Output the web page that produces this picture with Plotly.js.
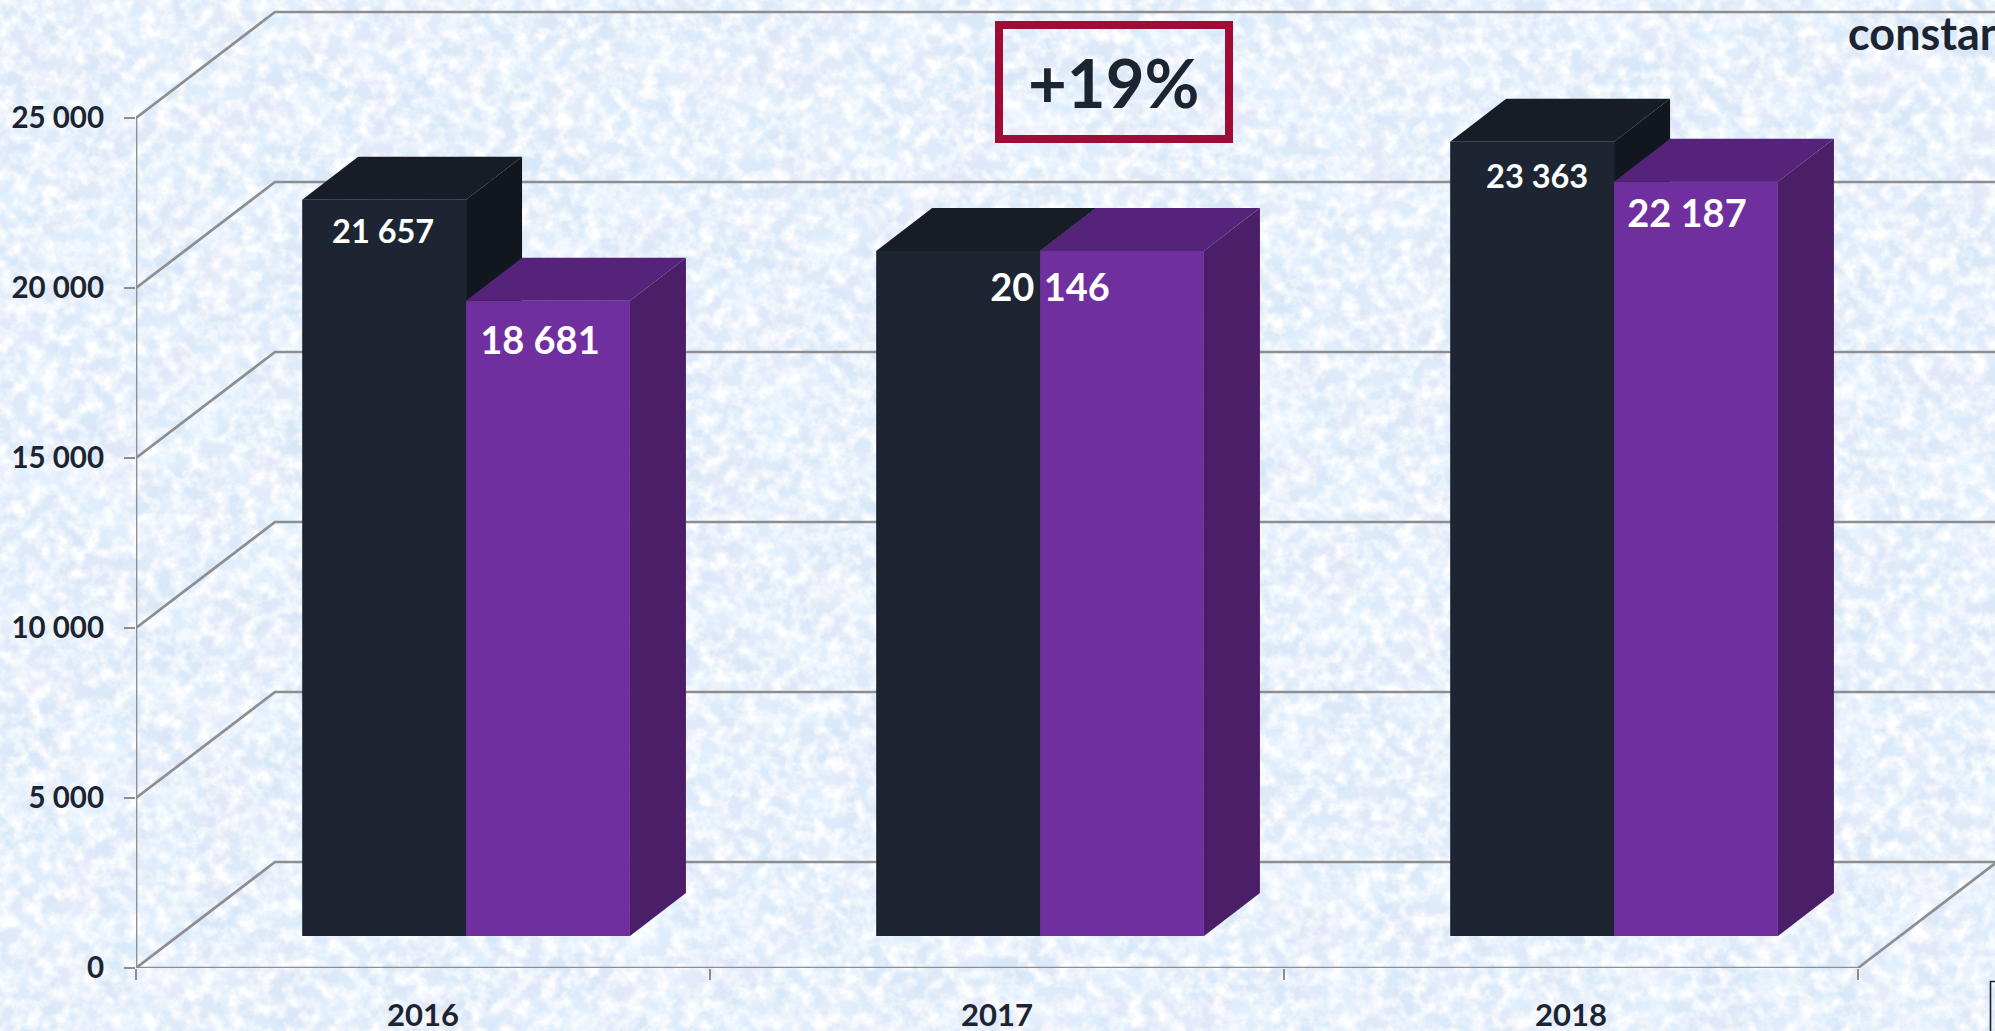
<!DOCTYPE html>
<html><head><meta charset="utf-8">
<script src="https://cdn.plot.ly/plotly-3.0.1.min.js"></script>
<style>
html,body{margin:0;padding:0;width:1995px;height:1031px;overflow:hidden;background:#dde9f6}
#bg{position:absolute;left:0;top:0}
#chart{position:absolute;left:0;top:0;width:1995px;height:1031px}
</style></head><body>
<svg id="bg" width="1995" height="1031">
  <defs>
    <filter id="tex" x="0" y="0" width="100%" height="100%">
      <feTurbulence type="fractalNoise" baseFrequency="0.07" numOctaves="4" seed="7"/>
      <feColorMatrix type="matrix" values="0 0 0 0 1  0 0 0 0 1  0 0 0 0 1  2.4 0 0 0 -0.85"/>
    </filter>
    <filter id="tex2" x="0" y="0" width="100%" height="100%">
      <feTurbulence type="fractalNoise" baseFrequency="0.016 0.022" numOctaves="3" seed="21"/>
      <feColorMatrix type="matrix" values="0 0 0 0 0.78  0 0 0 0 0.89  0 0 0 0 1  0 2.2 0 0 -0.85"/>
    </filter>
    <filter id="tex3" x="0" y="0" width="100%" height="100%">
      <feTurbulence type="fractalNoise" baseFrequency="0.02" numOctaves="2" seed="40"/>
      <feColorMatrix type="matrix" values="0 0 0 0 0.84  0 0 0 0 0.8  0 0 0 0 0.93  0 0 1.2 0 -0.5"/>
    </filter>
  </defs>
  <rect width="1995" height="1031" fill="#d9e8f8"/>
  <rect width="1995" height="1031" filter="url(#tex2)"/>
  <rect width="1995" height="1031" filter="url(#tex3)"/>
  <rect width="1995" height="1031" filter="url(#tex)"/>
</svg>
<div id="chart"></div>
<script>
// ---- data ----
const categories = ['2016', '2017', '2018'];
const seriesDark = [21657, 20146, 23363];
const seriesPurple = [18681, 20146, 22187];
const axisTicks = [0, 5000, 10000, 15000, 20000, 25000];
const catBoundaries = [0, 1, 2, 3];
const labelSize = [[32.5, 38], [38, 0], [32.5, 38]];   // dark, purple font sizes per category

// ---- layout constants (pixels on the page) ----
const W = 1995, H = 1031, axL = 136, axB = 968, catPx = 574, pxPerUnit = 0.034;
const xRange = [0, (W - axL) / catPx];
const yRange = [0, axB / pxPerUnit];
const floorPx = 32;
const floorShift = floorPx / pxPerUnit;
const y2Range = [-floorShift, yRange[1] - floorShift];
const wallDx = 139 / catPx, wallDy = 106 / pxPerUnit;
const barDx = 56 / catPx, barDy = 43 / pxPerUnit;
const xc = categories.map((c, i) => i + 0.5);
const barW = 0.2855, offDark = -0.2105, offPurple = offDark + barW;
const ink = '#1c2431', gray = '#8e8e90';
const FONT = 'Lato, Carlito, Calibri, sans-serif';
const fmt = v => String(v).replace(/\B(?=(\d{3})+$)/g, ' ');
const px2x = p => (p - axL) / (W - axL);
const px2y = p => (axB - p) / axB;

// ---- grid / walls (lines) ----
function line(xs, ys) {
  return {x: xs, y: ys, type: 'scatter', mode: 'lines', xaxis: 'x', yaxis: 'y', cliponaxis: false,
          line: {color: gray, width: 2.7}, hoverinfo: 'skip', showlegend: false};
}
const traces = [];
axisTicks.forEach(t => {
  traces.push(line([0, wallDx, xRange[1]], [t, t + wallDy, t + wallDy]));
});
traces.push(line([0, 0], [0, axisTicks[axisTicks.length - 1]]));
traces.push(line([0, catBoundaries[3]], [0, 0]));
traces.push(line([catBoundaries[3], catBoundaries[3] + wallDx], [0, wallDy]));

// ---- 3D faces ----
function faces(values, off, shift) {
  const top = {x: [], y: []}, side = {x: [], y: []};
  values.forEach((v, i) => {
    const l = xc[i] + off, r = l + barW;
    top.x.push(l, r, r + barDx, l + barDx, l, null);
    top.y.push(v + shift, v + shift, v + shift + barDy, v + shift + barDy, v + shift, null);
    side.x.push(r, r + barDx, r + barDx, r, r, null);
    side.y.push(shift, shift + barDy, v + shift + barDy, v + shift, shift, null);
  });
  return {top, side};
}
function face(d, color, yaxis) {
  return {x: d.x, y: d.y, type: 'scatter', mode: 'lines', fill: 'toself', fillcolor: color,
          line: {width: 0, color: color}, xaxis: 'x', yaxis: yaxis, hoverinfo: 'skip', showlegend: false};
}
const fd = faces(seriesDark, offDark, floorShift);
traces.push(face(fd.side, '#12171f', 'y'), face(fd.top, '#171c26', 'y'));

// ---- bars (front faces) ----
traces.push({type: 'bar', name: 'A', x: xc, y: seriesDark, width: barW, offset: offDark,
  marker: {color: '#1d2532', line: {width: 0}}, xaxis: 'x', yaxis: 'y2', hoverinfo: 'skip', showlegend: false});
traces.push({type: 'bar', name: 'B', x: xc, y: seriesPurple, width: barW, offset: offPurple,
  marker: {color: '#702f9f', line: {width: 0}}, xaxis: 'x', yaxis: 'y2', hoverinfo: 'skip', showlegend: false});
const fp = faces(seriesPurple, offPurple, 0);
traces.push(face(fp.side, '#4a1f68', 'y2'), face(fp.top, '#55237a', 'y2'));

// ---- value labels ----
const lx = [], ly = [], lt = [], ls = [];
const drop = [[35, 44], [40, 0], [38, 36]];
const nudge = [[-1, -8], [10, 0], [5, -9]];
categories.forEach((c, i) => {
  const same = seriesDark[i] === seriesPurple[i];
  const dc = same ? xc[i] + offPurple : xc[i] + offDark + barW / 2;
  lx.push(dc + nudge[i][0] / catPx); ly.push(seriesDark[i] - drop[i][0] / pxPerUnit);
  lt.push(fmt(seriesDark[i])); ls.push(labelSize[i][0]);
  if (!same) {
    lx.push(xc[i] + offPurple + barW / 2 + nudge[i][1] / catPx);
    ly.push(seriesPurple[i] - drop[i][1] / pxPerUnit);
    lt.push(fmt(seriesPurple[i])); ls.push(labelSize[i][1]);
  }
});
traces.push({type: 'scatter', mode: 'text', x: lx, y: ly, text: lt, textposition: 'middle center',
  textfont: {family: FONT, size: ls, color: '#ffffff', weight: 700},
  xaxis: 'x', yaxis: 'y2', hoverinfo: 'skip', showlegend: false});

const layout = {
  width: W, height: H, autosize: false,
  margin: {l: axL, r: 0, t: 0, b: H - axB, pad: 0},
  paper_bgcolor: 'rgba(0,0,0,0)', plot_bgcolor: 'rgba(0,0,0,0)',
  barmode: 'overlay', showlegend: false, separators: '. ',
  font: {family: FONT, color: ink},
  xaxis: {range: xRange, type: 'linear', showgrid: false, zeroline: false, showline: false,
    tickmode: 'array', tickvals: xc, ticktext: categories, ticks: '', ticklabelstandoff: 26,
    tickfont: {family: FONT, size: 31, color: ink, weight: 700},
    minor: {tickmode: 'array', tickvals: catBoundaries, ticks: 'outside', ticklen: 11, tickwidth: 2.2, tickcolor: gray, showgrid: false}},
  yaxis: {range: yRange, type: 'linear', showgrid: false, zeroline: false, showline: false,
    tickmode: 'array', tickvals: axisTicks, tickformat: ',d', ticks: 'outside', ticklen: 11, tickwidth: 2.2, tickcolor: gray,
    ticklabelstandoff: 14, tickfont: {family: FONT, size: 29.5, color: ink, weight: 700}},
  yaxis2: {range: y2Range, overlaying: 'y', visible: false, fixedrange: true},
  shapes: [
    {type: 'rect', xref: 'paper', yref: 'paper', x0: px2x(999), x1: px2x(1229), y0: px2y(25), y1: px2y(139),
     line: {color: '#a00c35', width: 8}, fillcolor: 'rgba(0,0,0,0)'},
    {type: 'rect', xref: 'paper', yref: 'paper', x0: px2x(1990.5), x1: px2x(2010), y0: px2y(981.5), y1: px2y(1045),
     line: {color: '#1c2431', width: 1.6}, fillcolor: 'rgba(0,0,0,0)'}
  ],
  annotations: [
    {xref: 'paper', yref: 'paper', x: px2x(1114), y: px2y(82), xanchor: 'center', yanchor: 'middle', showarrow: false,
     text: '+19%', font: {family: FONT, size: 67, color: ink, weight: 700}},
    {xref: 'paper', yref: 'paper', x: px2x(1846), y: px2y(33), xanchor: 'left', yanchor: 'middle', showarrow: false,
     text: 'constant', font: {family: FONT, size: 45, color: ink, weight: 700}}
  ]
};
Plotly.newPlot('chart', traces, layout, {displayModeBar: false, staticPlot: true});
</script>
</body></html>
